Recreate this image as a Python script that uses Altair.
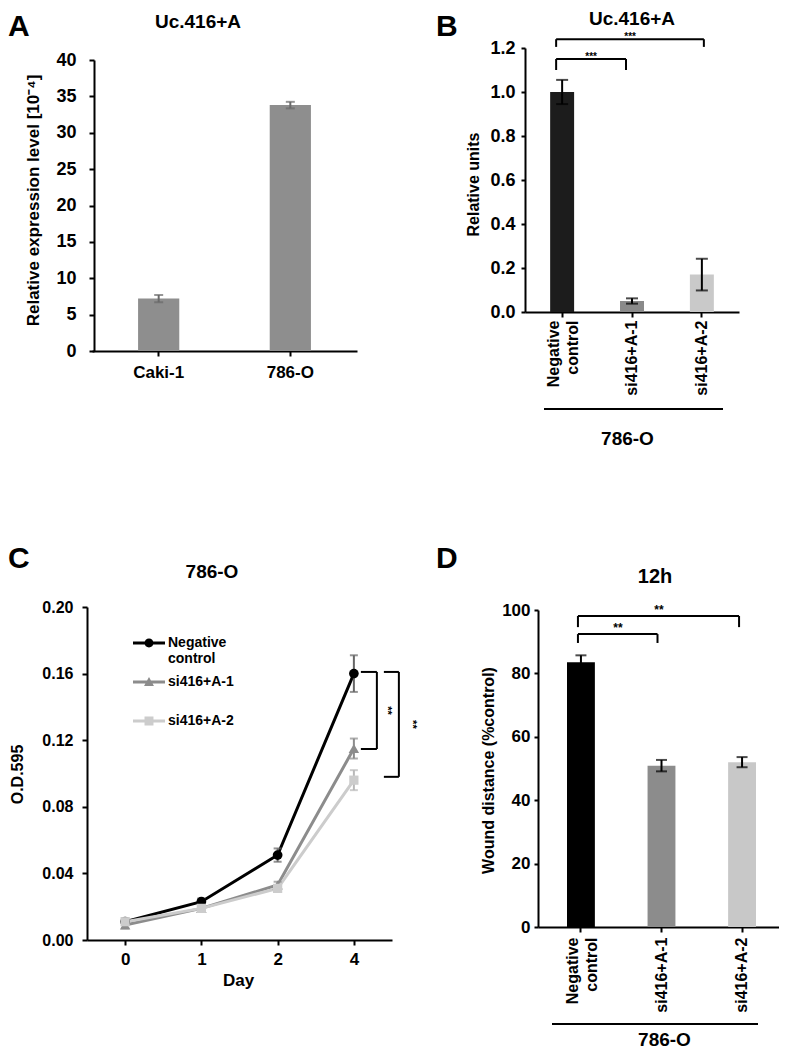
import altair as alt
import pandas as pd

W, H = 771, 1042
FONT = "Liberation Sans"

# ---------------- data ----------------
# Panel A
a_cells = ["Caki-1", "786-O"]
a_values = [7.2, 33.8]
a_errors = [0.5, 0.45]
a_ticks = [0, 5, 10, 15, 20, 25, 30, 35, 40]

# Panel B
b_groups = ["Negative control", "si416+A-1", "si416+A-2"]
b_values = [1.0, 0.05, 0.17]
b_errors = [0.055, 0.012, 0.072]
b_ticks = [0.0, 0.2, 0.4, 0.6, 0.8, 1.0, 1.2]
b_br_left = ["Negative control", "Negative control"]
b_br_right = ["si416+A-1", "si416+A-2"]
b_br_top = [1.15, 1.24]
b_br_bottom = [1.10, 1.205]
b_br_label = ["***", "***"]

# Panel C
c_days = ["0", "1", "2", "4"]
c_series = ["Negative control", "si416+A-1", "si416+A-2"]
c_nc = [0.011, 0.023, 0.051, 0.160]
c_nc_err = [0.002, 0.002, 0.004, 0.011]
c_si1 = [0.009, 0.019, 0.033, 0.115]
c_si1_err = [0.002, 0.002, 0.002, 0.006]
c_si2 = [0.011, 0.019, 0.031, 0.096]
c_si2_err = [0.002, 0.002, 0.002, 0.006]
c_ticks = [0.0, 0.04, 0.08, 0.12, 0.16, 0.20]
c_br_day = ["4", "4"]
c_br_top = [0.161, 0.161]
c_br_bottom = [0.1147, 0.098]
c_br_label = ["**", "**"]

# Panel D
d_groups = ["Negative control", "si416+A-1", "si416+A-2"]
d_values = [83.5, 50.9, 52.0]
d_errors = [2.2, 1.8, 1.6]
d_ticks = [0, 20, 40, 60, 80, 100]
d_br_left = ["Negative control", "Negative control"]
d_br_right = ["si416+A-1", "si416+A-2"]
d_br_top = [92.4, 98.1]
d_br_bottom = [89.6, 94.6]
d_br_label = ["**", "**"]

# ---------------- styles ----------------
a_bar_color = "#8e8e8e"
a_err_color = "#6a6a6a"
b_colors = ["#1c1c1c", "#8a8a8a", "#c9c9c9"]
c_colors = ["#000000", "#8c8c8c", "#cccccc"]
c_err_colors = ["#666666", "#8c8c8c", "#b8b8b8"]
c_shapes = ["circle", "triangle-up", "square"]
c_sizes = [95, 110, 85]
d_colors = ["#000000", "#8c8c8c", "#c8c8c8"]

LINE = "M-1,-0.094L1,-0.094L1,0.094L-1,0.094Z"
legend_paths = [
    LINE + "M0.28,0A0.28,0.28,0,1,1,-0.28,0A0.28,0.28,0,1,1,0.28,0Z",
    LINE + "M0,-0.31L0.31,0.25L-0.31,0.25Z",
    LINE + "M-0.28,-0.28L0.28,-0.28L0.28,0.28L-0.28,0.28Z",
]

MULTI_BASE = {"condition": {"test": "indexof(datum.value, ' ') >= 0", "value": "bottom"},
              "value": "middle"}


def y_axis(pos, title, tx, ty, values, fmt, lsize, tsize, tick, pad):
    return alt.Axis(orient="left", offset=-pos, values=values, format=fmt,
                    title=title, titleX=tx, titleY=ty, titleAngle=270,
                    titleAlign="center", titleBaseline="middle",
                    labelFontSize=lsize, titleFontSize=tsize,
                    tickSize=tick, labelPadding=pad, grid=False)


def err_layers(xfield, xscale, yscale, color, cap, flt=None):
    out = []
    rule = alt.Chart().mark_rule(color=color, strokeWidth=2).encode(
        x=alt.X(xfield, scale=xscale), y=alt.Y("lo:Q", scale=yscale), y2="hi:Q")
    lo = alt.Chart().mark_tick(color=color, thickness=2, size=cap, orient="horizontal").encode(
        x=alt.X(xfield, scale=xscale), y=alt.Y("lo:Q", scale=yscale))
    hi = alt.Chart().mark_tick(color=color, thickness=2, size=cap, orient="horizontal").encode(
        x=alt.X(xfield, scale=xscale), y=alt.Y("hi:Q", scale=yscale))
    for c in (rule, lo, hi):
        out.append(c.transform_filter(flt) if flt is not None else c)
    return out


def cat_brackets(left, right, top, bottom, labels, xscale, yscale, offsets, star_dx, star_dy, star_size):
    layers = []
    for i in range(len(left)):
        sub = pd.DataFrame({"left": [left[i]], "right": [right[i]], "top": [top[i]],
                            "bottom": [bottom[i]], "label": [labels[i]]})
        base = alt.Chart(sub)
        lo_off, ro_off = offsets[i]
        h = base.mark_rule(color="black", strokeWidth=2, xOffset=lo_off, x2Offset=ro_off).encode(
            x=alt.X("left:N", scale=xscale), x2="right:N",
            y=alt.Y("top:Q", scale=yscale))
        lleg = base.mark_rule(color="black", strokeWidth=2, xOffset=lo_off).encode(
            x=alt.X("left:N", scale=xscale),
            y=alt.Y("top:Q", scale=yscale), y2="bottom:Q")
        rleg = base.mark_rule(color="black", strokeWidth=2, xOffset=ro_off).encode(
            x=alt.X("right:N", scale=xscale),
            y=alt.Y("top:Q", scale=yscale), y2="bottom:Q")
        txt = base.mark_text(font=FONT, fontWeight="bold", fontSize=star_size, color="black",
                             baseline="alphabetic", dx=star_dx[i], dy=star_dy).encode(
            x=alt.X("left:N", scale=xscale),
            y=alt.Y("top:Q", scale=yscale), text="label:N")
        layers += [h, lleg, rleg, txt]
    return layers


# ---------------- Panel A ----------------
dfA = pd.DataFrame({"cell": a_cells, "value": a_values, "err": a_errors})
dfA["lo"] = dfA["value"] - dfA["err"]
dfA["hi"] = dfA["value"] + dfA["err"]
xA = alt.Scale(type="band", domain=a_cells, range=[84, 349], paddingInner=0.687, paddingOuter=0.35)
yA = alt.Scale(domain=[0, 40], range=[343, 52], nice=False)
barsA = alt.Chart().mark_bar(color=a_bar_color).encode(
    x=alt.X("cell:N", scale=xA,
            axis=alt.Axis(orient="bottom", offset=-(H - 343), title=None, labelAngle=0,
                          labelFontSize=17, tickSize=5, labelPadding=8)),
    y=alt.Y("value:Q", scale=yA,
            axis=y_axis(86, "Relative expression level [10⁻⁴]", -61, 192, a_ticks, "d", 18, 17, 5, 13)))
panelA = alt.layer(barsA, *err_layers("cell:N", xA, yA, a_err_color, 9), data=dfA)

# ---------------- Panel B ----------------
dfB = pd.DataFrame({"grp": b_groups, "value": b_values, "err": b_errors})
dfB["lo"] = dfB["value"] - dfB["err"]
dfB["hi"] = dfB["value"] + dfB["err"]
xB = alt.Scale(type="band", domain=b_groups, range=[517, 731], paddingInner=0.657, paddingOuter=0.36)
yB = alt.Scale(domain=[0, 1.2], range=[304, 40], nice=False)
barsB = alt.Chart().mark_bar().encode(
    x=alt.X("grp:N", scale=xB,
            axis=alt.Axis(orient="bottom", offset=-(H - 304), title="786-O", titleX=619, titleY=126,
                          titleBaseline="middle", titleFontSize=19, labelAngle=270, labelAlign="right",
                          labelBaseline=MULTI_BASE, labelExpr="split(datum.label, ' ')",
                          labelLineHeight=19, labelFontSize=16, tickSize=5, labelPadding=3)),
    y=alt.Y("value:Q", scale=yB,
            axis=y_axis(517, "Relative units", -52, 176, b_ticks, ".1f", 18, 16, 4, 6)),
    color=alt.Color("grp:N", scale=alt.Scale(domain=b_groups, range=b_colors), legend=None))
underB = alt.Chart(alt.Data(values=[{}])).mark_rule(color="black", strokeWidth=2).encode(
    x=alt.value(536), x2=alt.value(715), y=alt.value(401))
panelB = alt.layer(
    barsB, *err_layers("grp:N", xB, yB, "black", 12),
    *cat_brackets(b_br_left, b_br_right, b_br_top, b_br_bottom, b_br_label, xB, yB,
                  [(-6, -6), (-6, 2)], [29, 68], 1, 10),
    underB, data=dfB)

# ---------------- Panel C ----------------
rows = []
for s, vals, errs in zip(c_series, [c_nc, c_si1, c_si2], [c_nc_err, c_si1_err, c_si2_err]):
    for d, v, e in zip(c_days, vals, errs):
        rows.append({"series": s, "day": d, "value": v, "lo": v - e, "hi": v + e})
dfC = pd.DataFrame(rows)
xC = alt.Scale(type="point", domain=c_days, range=[79, 384], padding=0.5)
yC = alt.Scale(domain=[0, 0.2], range=[932, 599], nice=False)
xC_axis = alt.Axis(orient="bottom", offset=-(H - 932), title="Day", titleX=230, titleY=40,
                   titleBaseline="middle", titleFontSize=17, labelAngle=0,
                   labelFontSize=17, tickSize=5, labelPadding=6)
yC_axis = y_axis(79, "O.D.595", -70, 766, c_ticks, ".2f", 16, 16, 5, 9)

leg = alt.Legend(title=None, orient="none", legendX=125, legendY=619, symbolSize=1024,
                 symbolStrokeWidth=0, symbolOpacity=1, labelFont=FONT, labelFontWeight="bold",
                 labelFontSize=14, labelColor="black", labelBaseline="middle", labelOffset=3,
                 labelLimit=300, rowPadding=0, gridAlign="all", padding=0,
                 labelExpr="split(datum.label, ' ')")
legendC = alt.Chart().mark_point(filled=True, size=1024, opacity=1).encode(
    x=alt.X("day:N", scale=xC, axis=xC_axis),
    y=alt.Y("value:Q", scale=yC, axis=yC_axis),
    shape=alt.Shape("series:N", scale=alt.Scale(domain=c_series, range=legend_paths), legend=leg),
    color=alt.Color("series:N", scale=alt.Scale(domain=c_series, range=c_colors), legend=leg)
).transform_filter("false")

linesC, errC, ptsC = [], [], []
for s, ec, shp, sz, col in zip(c_series, c_err_colors, c_shapes, c_sizes, c_colors):
    flt = alt.datum.series == s
    linesC.append(alt.Chart().mark_line(strokeWidth=3, color=col).encode(
        x=alt.X("day:N", scale=xC), y=alt.Y("value:Q", scale=yC)).transform_filter(flt))
    errC += err_layers("day:N", xC, yC, ec, 8, flt)
    ptsC.append(alt.Chart().mark_point(shape=shp, size=sz, filled=True, opacity=1, color=col).encode(
        x=alt.X("day:N", scale=xC), y=alt.Y("value:Q", scale=yC)).transform_filter(flt))

# brackets in C (to the right of day 4)
brC = []
c_offsets = [(7, 23), (30, 45)]
c_star_dx = [10, 13]
for i in range(len(c_br_day)):
    sub = pd.DataFrame({"day": [c_br_day[i]], "top": [c_br_top[i]], "bottom": [c_br_bottom[i]],
                        "label": [c_br_label[i]]})
    sub["mid"] = (sub["top"] + sub["bottom"]) / 2
    a, b = c_offsets[i]
    base = alt.Chart(sub)
    for yf in ("top:Q", "bottom:Q"):
        brC.append(base.mark_rule(color="black", strokeWidth=2, xOffset=a, x2Offset=b).encode(
            x=alt.X("day:N", scale=xC), x2="day:N", y=alt.Y(yf, scale=yC)))
    brC.append(base.mark_rule(color="black", strokeWidth=2, xOffset=b).encode(
        x=alt.X("day:N", scale=xC), y=alt.Y("top:Q", scale=yC), y2="bottom:Q"))
    brC.append(base.mark_text(font=FONT, fontWeight="bold", fontSize=11, color="black", angle=90,
                              baseline="middle", align="center", xOffset=b + c_star_dx[i]).encode(
        x=alt.X("day:N", scale=xC), y=alt.Y("mid:Q", scale=yC), text="label:N"))
panelC = alt.layer(legendC, *linesC, *errC, *ptsC, *brC, data=dfC)

# ---------------- Panel D ----------------
dfD = pd.DataFrame({"grp": d_groups, "value": d_values, "err": d_errors})
dfD["lo"] = dfD["value"] - dfD["err"]
dfD["hi"] = dfD["value"] + dfD["err"]
xD = alt.Scale(type="band", domain=d_groups, range=[530, 777], paddingInner=0.654, paddingOuter=0.36)
yD = alt.Scale(domain=[0, 100], range=[919, 602], nice=False)
barsD = alt.Chart().mark_bar().encode(
    x=alt.X("grp:N", scale=xD,
            axis=alt.Axis(orient="bottom", offset=-(H - 919), title="786-O", titleX=656, titleY=112,
                          titleBaseline="middle", titleFontSize=19, labelAngle=270, labelAlign="right",
                          labelBaseline=MULTI_BASE, labelExpr="split(datum.label, ' ')",
                          labelLineHeight=19, labelFontSize=16, tickSize=5, labelPadding=5)),
    y=alt.Y("value:Q", scale=yD,
            axis=y_axis(530, "Wound distance (%control)", -50, 762, d_ticks, "d", 17, 16, 4, 4)),
    color=alt.Color("grp:N", scale=alt.Scale(domain=d_groups, range=d_colors), legend=None))
underD = alt.Chart(alt.Data(values=[{}])).mark_rule(color="black", strokeWidth=2).encode(
    x=alt.value(544), x2=alt.value(750), y=alt.value(1016))
panelD = alt.layer(
    barsD, *err_layers("grp:N", xD, yD, "black", 11),
    *cat_brackets(d_br_left, d_br_right, d_br_top, d_br_bottom, d_br_label, xD, yD,
                  [(-3, -4), (-3, -3)], [37, 78], -2, 12),
    underD, data=dfD)


# ---------------- panel letters & titles ----------------
def label(txt, x, y, size, align="center"):
    return alt.Chart(alt.Data(values=[{}])).mark_text(
        text=txt, font=FONT, fontWeight="bold", fontSize=size, color="black",
        align=align, baseline="alphabetic").encode(x=alt.value(x), y=alt.value(y))


texts = [
    label("A", 0, 28, 30, "left"),
    label("B", 428, 28, 30, "left"),
    label("C", 0, 560, 30, "left"),
    label("D", 428, 560, 30, "left"),
    label("Uc.416+A", 190, 20, 19),
    label("Uc.416+A", 624, 17, 19),
    label("786-O", 204, 570, 19),
    label("12h", 647, 575, 20),
]

chart = alt.layer(panelA, panelB, panelC, panelD, *texts).resolve_scale(
    x="independent", y="independent", color="independent", shape="independent"
).resolve_axis(x="independent", y="independent").properties(
    width=W, height=H, padding=0, autosize=alt.AutoSizeParams(type="none")
).configure_view(strokeWidth=0).configure_axis(
    domainColor="black", domainWidth=2, tickColor="black", tickWidth=2,
    labelColor="black", titleColor="black", labelFont=FONT, titleFont=FONT,
    labelFontWeight="bold", titleFontWeight="bold", grid=False)

chart.save("out.html", embed_options={"renderer": "svg", "actions": False})
